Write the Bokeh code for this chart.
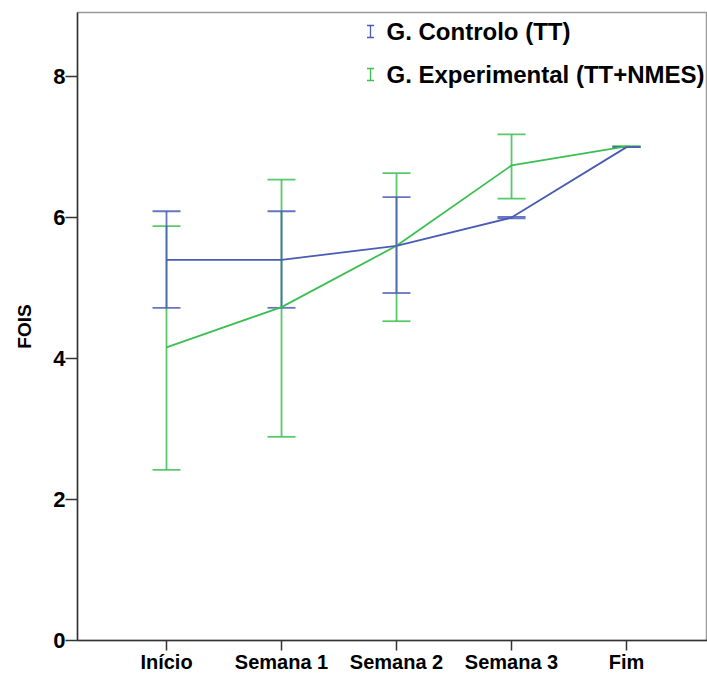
import numpy as np
from bokeh.plotting import figure
from bokeh.models import (ColumnDataSource, Whisker, TeeHead, Range1d, FixedTicker,
                          Label)
from bokeh.embed import file_html
from bokeh.resources import INLINE

# ---- data ----
categories = ["Início", "Semana 1", "Semana 2", "Semana 3", "Fim"]

ctrl_mean = [5.40, 5.40, 5.60, 6.00, 7.00]
ctrl_upper = [6.09, 6.09, 6.29, 6.01, 7.00]
ctrl_lower = [4.72, 4.72, 4.93, 5.99, 7.00]

exp_mean = [4.16, 4.73, 5.60, 6.74, 7.01]
exp_upper = [5.88, 6.54, 6.63, 7.18, 7.01]
exp_lower = [2.42, 2.89, 4.53, 6.27, 7.01]

y_ticks = [0, 2, 4, 6, 8]
series_names = ["G. Controlo (TT)", "G. Experimental (TT+NMES)"]

BLUE = "#4a5db5"
GREEN = "#3cbf52"
FONT = "Liberation Sans"

xpos = list(range(len(categories)))

p = figure(width=707, height=675,
           x_range=Range1d(-0.774, 4.704), y_range=Range1d(0, 8.91),
           output_backend="svg", toolbar_location=None,
           min_border_left=77, min_border_right=0,
           min_border_top=12, min_border_bottom=35)

p.xgrid.visible = False
p.ygrid.visible = False
p.background_fill_color = "white"
p.border_fill_color = "white"
p.outline_line_color = "#9a9a9a"
p.outline_line_width = 1.5

# axes
p.xaxis.ticker = FixedTicker(ticks=xpos)
p.xaxis.major_label_overrides = {i: c for i, c in zip(xpos, categories)}
p.yaxis.ticker = FixedTicker(ticks=y_ticks)
for ax in (p.xaxis, p.yaxis):
    ax.axis_line_color = "#333333"
    ax.axis_line_width = 1.5
    ax.major_tick_line_color = "#333333"
    ax.major_tick_line_width = 1.5
    ax.major_tick_in = 0
    ax.minor_tick_line_color = None
    ax.major_label_text_font = FONT
    ax.major_label_text_font_style = "bold"
    ax.major_label_text_color = "black"

p.xaxis.major_tick_out = 10
p.xaxis.major_label_standoff = 0
p.xaxis.major_label_text_font_size = "20px"

p.yaxis.major_tick_out = 12
p.yaxis.major_label_standoff = 0
p.yaxis.major_label_text_font_size = "22px"
p.yaxis.axis_label = "FOIS"
p.yaxis.axis_label_text_font = FONT
p.yaxis.axis_label_text_font_style = "bold"
p.yaxis.axis_label_text_font_size = "19px"
p.yaxis.axis_label_text_color = "black"
p.yaxis.axis_label_standoff = 15

# series
for mean, up, lo, col in [(exp_mean, exp_upper, exp_lower, GREEN),
                          (ctrl_mean, ctrl_upper, ctrl_lower, BLUE)]:
    src = ColumnDataSource(dict(x=xpos, mean=mean, upper=up, lower=lo))
    w = Whisker(source=src, base="x", upper="upper", lower="lower",
                dimension="height", line_color=col, line_width=1.8, line_alpha=0.85,
                upper_head=TeeHead(size=28, line_color=col, line_width=1.8, line_alpha=0.85),
                lower_head=TeeHead(size=28, line_color=col, line_width=1.8, line_alpha=0.85))
    p.add_layout(w)
    p.line("x", "mean", source=src, line_color=col, line_width=1.8)

# manual legend (screen units, from frame bottom-left)
legend_rows = [(609, BLUE, series_names[0]), (566, GREEN, series_names[1])]
for yc, col, name in legend_rows:
    icon_src = ColumnDataSource(dict(b=[293], u=[yc + 6], l=[yc - 6]))
    icon = Whisker(source=icon_src, base="b", upper="u", lower="l",
                   base_units="screen", upper_units="screen", lower_units="screen",
                   dimension="height", line_color=col, line_width=1.3,
                   upper_head=TeeHead(size=7, line_color=col, line_width=1.3),
                   lower_head=TeeHead(size=7, line_color=col, line_width=1.3))
    p.add_layout(icon)
    p.add_layout(Label(x=309, y=yc, x_units="screen", y_units="screen",
                       text=name, text_baseline="middle", text_align="left",
                       text_font=FONT, text_font_style="bold",
                       text_font_size="24px", text_color="black"))

open("out.html", "w").write(file_html(p, INLINE))
